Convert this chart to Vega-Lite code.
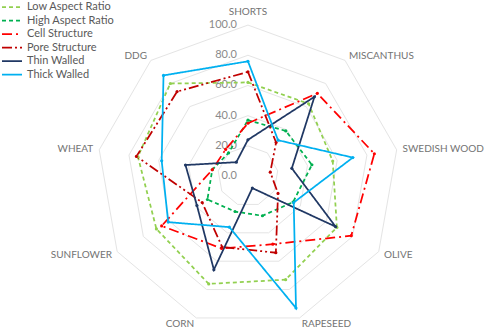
{
  "$schema": "https://vega.github.io/schema/vega-lite/v6.json",
  "width": 487,
  "height": 334,
  "padding": 0,
  "autosize": {"type": "none"},
  "background": "white",
  "config": {"view": {"stroke": null}, "font": "Lato"},
  "datasets": {
    "scores": [
      {"series": "Low Aspect Ratio", "category": "SHORTS", "value": 62},
      {"series": "Low Aspect Ratio", "category": "MISCANTHUS", "value": 62.5},
      {"series": "Low Aspect Ratio", "category": "SWEDISH WOOD", "value": 57},
      {"series": "Low Aspect Ratio", "category": "OLIVE", "value": 68},
      {"series": "Low Aspect Ratio", "category": "RAPESEED", "value": 73},
      {"series": "Low Aspect Ratio", "category": "CORN", "value": 76},
      {"series": "Low Aspect Ratio", "category": "SUNFLOWER", "value": 70},
      {"series": "Low Aspect Ratio", "category": "WHEAT", "value": 74},
      {"series": "Low Aspect Ratio", "category": "DDG", "value": 80},
      {"series": "High Aspect Ratio", "category": "SHORTS", "value": 37},
      {"series": "High Aspect Ratio", "category": "MISCANTHUS", "value": 39},
      {"series": "High Aspect Ratio", "category": "SWEDISH WOOD", "value": 43},
      {"series": "High Aspect Ratio", "category": "OLIVE", "value": 34.5},
      {"series": "High Aspect Ratio", "category": "RAPESEED", "value": 28},
      {"series": "High Aspect Ratio", "category": "CORN", "value": 25},
      {"series": "High Aspect Ratio", "category": "SUNFLOWER", "value": 31},
      {"series": "High Aspect Ratio", "category": "WHEAT", "value": 24},
      {"series": "High Aspect Ratio", "category": "DDG", "value": 20},
      {"series": "Cell Structure", "category": "SHORTS", "value": 35},
      {"series": "Cell Structure", "category": "MISCANTHUS", "value": 71.5},
      {"series": "Cell Structure", "category": "SWEDISH WOOD", "value": 85},
      {"series": "Cell Structure", "category": "OLIVE", "value": 79},
      {"series": "Cell Structure", "category": "RAPESEED", "value": 48},
      {"series": "Cell Structure", "category": "CORN", "value": 51},
      {"series": "Cell Structure", "category": "SUNFLOWER", "value": 66},
      {"series": "Cell Structure", "category": "WHEAT", "value": 24},
      {"series": "Cell Structure", "category": "DDG", "value": 23},
      {"series": "Pore Structure", "category": "SHORTS", "value": 69},
      {"series": "Pore Structure", "category": "MISCANTHUS", "value": 29},
      {"series": "Pore Structure", "category": "SWEDISH WOOD", "value": 15},
      {"series": "Pore Structure", "category": "OLIVE", "value": 23},
      {"series": "Pore Structure", "category": "RAPESEED", "value": 54},
      {"series": "Pore Structure", "category": "CORN", "value": 50},
      {"series": "Pore Structure", "category": "SUNFLOWER", "value": 35},
      {"series": "Pore Structure", "category": "WHEAT", "value": 75},
      {"series": "Pore Structure", "category": "DDG", "value": 73},
      {"series": "Thin Walled", "category": "SHORTS", "value": 24},
      {"series": "Thin Walled", "category": "MISCANTHUS", "value": 68.5},
      {"series": "Thin Walled", "category": "SWEDISH WOOD", "value": 29.5},
      {"series": "Thin Walled", "category": "OLIVE", "value": 67},
      {"series": "Thin Walled", "category": "RAPESEED", "value": 8.5},
      {"series": "Thin Walled", "category": "CORN", "value": 66},
      {"series": "Thin Walled", "category": "SUNFLOWER", "value": 39},
      {"series": "Thin Walled", "category": "WHEAT", "value": 42},
      {"series": "Thin Walled", "category": "DDG", "value": 12},
      {"series": "Thick Walled", "category": "SHORTS", "value": 76},
      {"series": "Thick Walled", "category": "MISCANTHUS", "value": 31},
      {"series": "Thick Walled", "category": "SWEDISH WOOD", "value": 70.5},
      {"series": "Thick Walled", "category": "OLIVE", "value": 35},
      {"series": "Thick Walled", "category": "RAPESEED", "value": 93},
      {"series": "Thick Walled", "category": "CORN", "value": 36},
      {"series": "Thick Walled", "category": "SUNFLOWER", "value": 61},
      {"series": "Thick Walled", "category": "WHEAT", "value": 58},
      {"series": "Thick Walled", "category": "DDG", "value": 87}
    ],
    "cats": [
      {"category": "SHORTS"}, {"category": "MISCANTHUS"}, {"category": "SWEDISH WOOD"},
      {"category": "OLIVE"}, {"category": "RAPESEED"}, {"category": "CORN"},
      {"category": "SUNFLOWER"}, {"category": "WHEAT"}, {"category": "DDG"}
    ],
    "levels": [
      {"level": 0}, {"level": 20}, {"level": 40}, {"level": 60}, {"level": 80}, {"level": 100}
    ]
  },
  "layer": [
    {
      "data": {"name": "levels"},
      "transform": [
        {"filter": "datum.level > 0"},
        {"calculate": "[0,1,2,3,4,5,6,7,8,9]", "as": "ks"},
        {"flatten": ["ks"], "as": ["k"]},
        {"calculate": "datum.k * 2 * PI / 9", "as": "a"},
        {"calculate": "datum.level * sin(datum.a)", "as": "px"},
        {"calculate": "datum.level * cos(datum.a)", "as": "py"}
      ],
      "mark": {"type": "line", "stroke": "#E4E4E4", "strokeWidth": 1},
      "encoding": {
        "x": {"field": "px", "type": "quantitative", "scale": {"domain": [-164.2, 158.3], "nice": false, "zero": false}, "axis": null},
        "y": {"field": "py", "type": "quantitative", "scale": {"domain": [-104.6, 116.6], "nice": false, "zero": false}, "axis": null},
        "detail": {"field": "level", "type": "nominal"},
        "order": {"field": "k", "type": "quantitative"}
      }
    },
    {
      "data": {"name": "levels"},
      "transform": [
        {"calculate": "0", "as": "px"},
        {"calculate": "datum.level", "as": "py"}
      ],
      "mark": {"type": "text", "align": "right", "baseline": "middle", "dx": -11, "fontSize": 11, "color": "#8A8A8A", "font": "Lato"},
      "encoding": {
        "x": {"field": "px", "type": "quantitative"},
        "y": {"field": "py", "type": "quantitative"},
        "text": {"field": "level", "type": "quantitative", "format": ".1f"}
      }
    },
    {
      "data": {"name": "cats"},
      "transform": [
        {"calculate": "indexof(['SHORTS','MISCANTHUS','SWEDISH WOOD','OLIVE','RAPESEED','CORN','SUNFLOWER','WHEAT','DDG'], datum.category)", "as": "i"},
        {"calculate": "datum.i * 2 * PI / 9", "as": "a"},
        {"filter": "sin(datum.a) > 0.1"},
        {"calculate": "104 * sin(datum.a)", "as": "px"},
        {"calculate": "104 * cos(datum.a)", "as": "py"}
      ],
      "mark": {"type": "text", "align": "left", "baseline": "middle", "fontSize": 10, "color": "#737373", "font": "Lato"},
      "encoding": {
        "x": {"field": "px", "type": "quantitative"},
        "y": {"field": "py", "type": "quantitative"},
        "text": {"field": "category", "type": "nominal"}
      }
    },
    {
      "data": {"name": "cats"},
      "transform": [
        {"calculate": "indexof(['SHORTS','MISCANTHUS','SWEDISH WOOD','OLIVE','RAPESEED','CORN','SUNFLOWER','WHEAT','DDG'], datum.category)", "as": "i"},
        {"calculate": "datum.i * 2 * PI / 9", "as": "a"},
        {"filter": "sin(datum.a) < -0.1"},
        {"calculate": "104 * sin(datum.a)", "as": "px"},
        {"calculate": "104 * cos(datum.a)", "as": "py"}
      ],
      "mark": {"type": "text", "align": "right", "baseline": "middle", "fontSize": 10, "color": "#737373", "font": "Lato"},
      "encoding": {
        "x": {"field": "px", "type": "quantitative"},
        "y": {"field": "py", "type": "quantitative"},
        "text": {"field": "category", "type": "nominal"}
      }
    },
    {
      "data": {"name": "cats"},
      "transform": [
        {"filter": "datum.category == 'SHORTS'"},
        {"calculate": "0", "as": "px"},
        {"calculate": "104", "as": "py"}
      ],
      "mark": {"type": "text", "align": "center", "baseline": "middle", "dy": -7, "fontSize": 10, "color": "#737373", "font": "Lato"},
      "encoding": {
        "x": {"field": "px", "type": "quantitative"},
        "y": {"field": "py", "type": "quantitative"},
        "text": {"field": "category", "type": "nominal"}
      }
    },
    {
      "data": {"name": "scores"},
      "transform": [
        {"calculate": "indexof(['SHORTS','MISCANTHUS','SWEDISH WOOD','OLIVE','RAPESEED','CORN','SUNFLOWER','WHEAT','DDG'], datum.category)", "as": "i"},
        {"calculate": "datum.i == 0 ? [0, 9] : [datum.i]", "as": "ks"},
        {"flatten": ["ks"], "as": ["k"]},
        {"calculate": "datum.k * 2 * PI / 9", "as": "a"},
        {"calculate": "datum.value * sin(datum.a)", "as": "px"},
        {"calculate": "datum.value * cos(datum.a)", "as": "py"}
      ],
      "mark": {"type": "line", "strokeWidth": 1.75},
      "encoding": {
        "x": {"field": "px", "type": "quantitative"},
        "y": {"field": "py", "type": "quantitative"},
        "order": {"field": "k", "type": "quantitative"},
        "color": {
          "field": "series", "type": "nominal", "title": null,
          "scale": {
            "domain": ["Low Aspect Ratio", "High Aspect Ratio", "Cell Structure", "Pore Structure", "Thin Walled", "Thick Walled"],
            "range": ["#92D050", "#00B050", "#FF0000", "#C00000", "#203864", "#00B0F0"]
          },
          "legend": {
            "orient": "none", "legendX": 6, "legendY": 1, "padding": 0,
            "symbolType": "M-2,0H2", "symbolSize": 100, "symbolStrokeWidth": 1.75,
            "labelFontSize": 11, "labelColor": "#595959", "labelFont": "Lato",
            "labelOffset": 9, "rowPadding": 2.5
          }
        },
        "strokeDash": {
          "field": "series", "type": "nominal", "title": null,
          "scale": {
            "domain": ["Low Aspect Ratio", "High Aspect Ratio", "Cell Structure", "Pore Structure", "Thin Walled", "Thick Walled"],
            "range": [[4, 3], [4, 3], [10, 4, 2, 4], [10, 3, 2, 3, 2, 3], [1, 0], [1, 0]]
          },
          "legend": {
            "orient": "none", "legendX": 6, "legendY": 1, "padding": 0,
            "symbolType": "M-2,0H2", "symbolSize": 100, "symbolStrokeWidth": 1.75,
            "labelFontSize": 11, "labelColor": "#595959", "labelFont": "Lato",
            "labelOffset": 9, "rowPadding": 2.5
          }
        }
      }
    },
    {
      "data": {"name": "scores"},
      "transform": [
        {"calculate": "indexof(['SHORTS','MISCANTHUS','SWEDISH WOOD','OLIVE','RAPESEED','CORN','SUNFLOWER','WHEAT','DDG'], datum.category)", "as": "i"},
        {"calculate": "datum.i * 2 * PI / 9", "as": "a"},
        {"calculate": "datum.value * sin(datum.a)", "as": "px"},
        {"calculate": "datum.value * cos(datum.a)", "as": "py"}
      ],
      "mark": {"type": "point", "filled": true, "size": 10, "opacity": 1},
      "encoding": {
        "x": {"field": "px", "type": "quantitative"},
        "y": {"field": "py", "type": "quantitative"},
        "color": {"field": "series", "type": "nominal", "title": null}
      }
    }
  ]
}
